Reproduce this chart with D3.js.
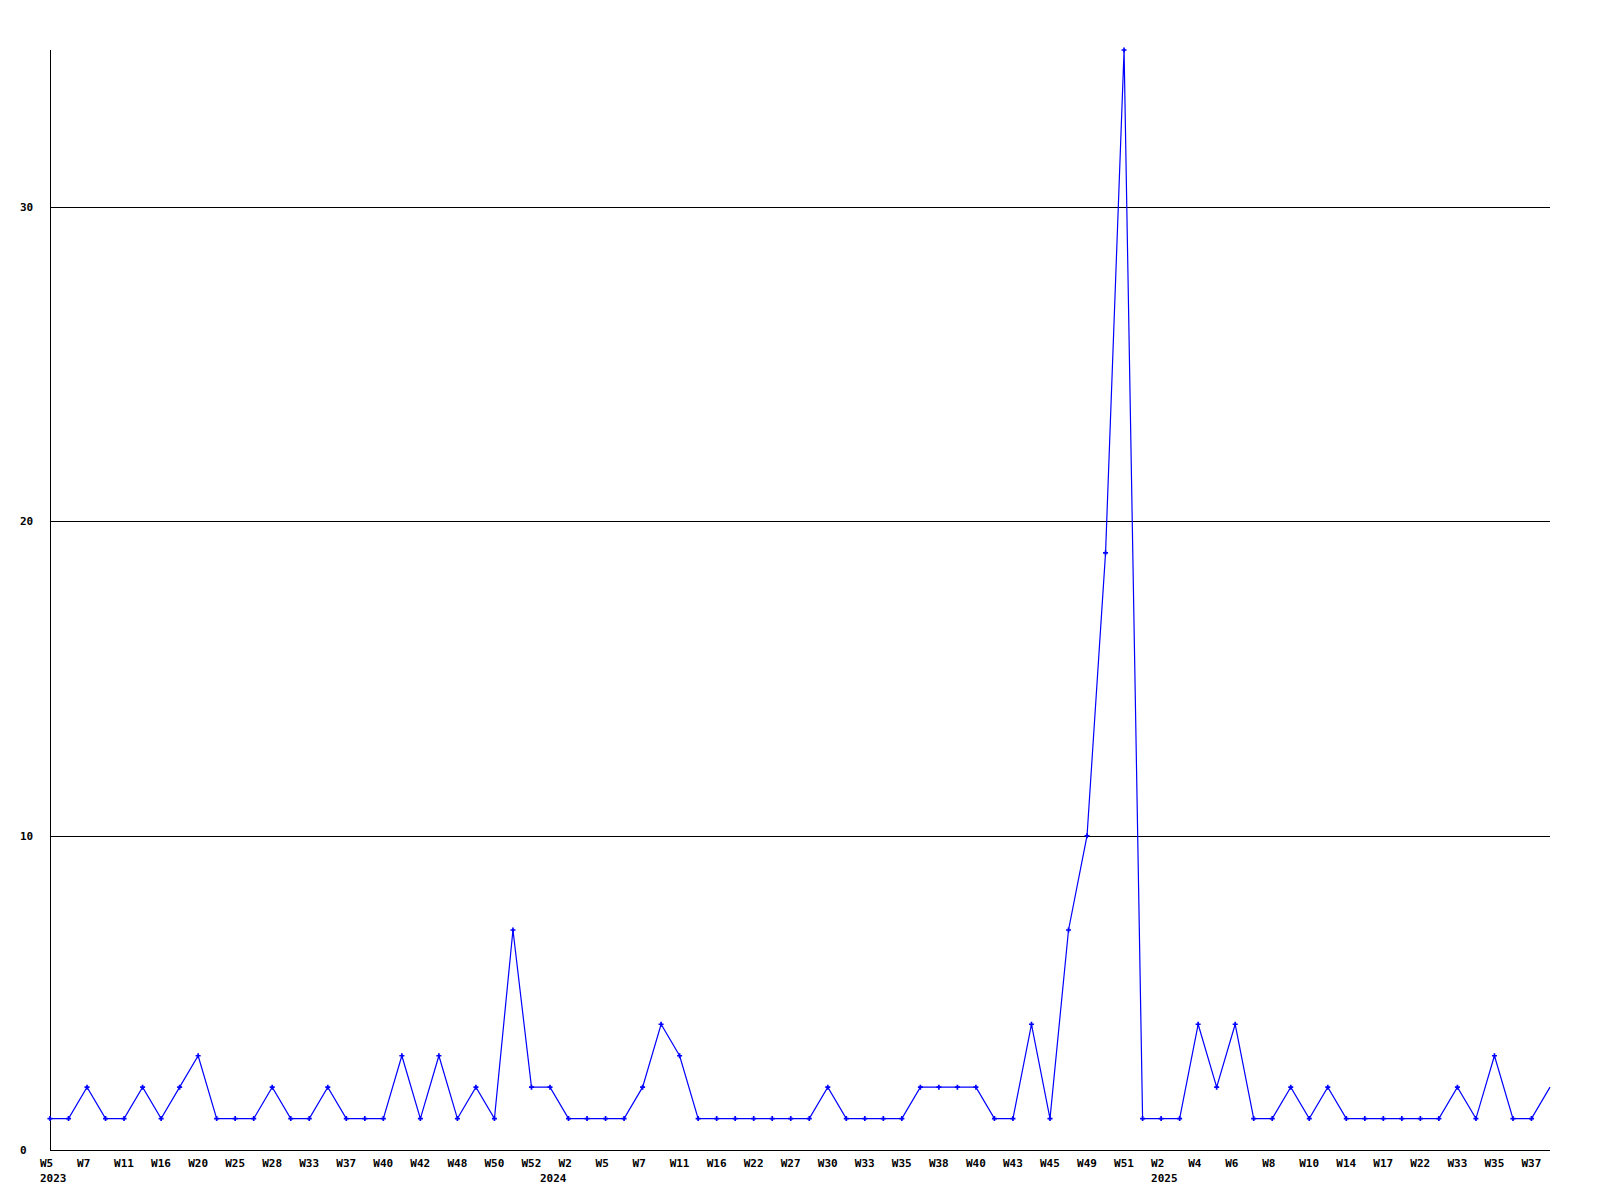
<!DOCTYPE html>
<html>
<head>
<meta charset="utf-8">
<script src="https://cdn.jsdelivr.net/npm/d3@7"></script>
<style>
  html, body { margin: 0; padding: 0; background: #fff; }
  text { font-family: "DejaVu Sans Mono", "Liberation Mono", monospace; font-weight: bold; font-size: 11px; fill: #000; }
</style>
</head>
<body>
<svg id="chart" width="1600" height="1200"></svg>
<script>
// Weekly counts, one entry per point (82 points)
const values = [
  1, 1, 2, 1, 1, 2, 1, 2, 3, 1,
  1, 1, 2, 1, 1, 2, 1, 1, 1, 3,
  1, 3, 1, 2, 1, 7, 2, 2, 1, 1,
  1, 1, 2, 4, 3, 1, 1, 1, 1, 1,
  1, 1, 2, 1, 1, 1, 1, 2, 2, 2,
  2, 1, 1, 4, 1, 7, 10, 19, 35, 1,
  1, 1, 4, 2, 4, 1, 1, 2, 1, 2,
  1, 1, 1, 1, 1, 1, 2, 1, 3, 1,
  1, 2
];
// Week labels shown under every second point
const weekLabels = [
  "W5", "W7", "W11", "W16", "W20", "W25", "W28", "W33", "W37", "W40",
  "W42", "W48", "W50", "W52", "W2", "W5", "W7", "W11", "W16", "W22",
  "W27", "W30", "W33", "W35", "W38", "W40", "W43", "W45", "W49", "W51",
  "W2", "W4", "W6", "W8", "W10", "W14", "W17", "W22", "W33", "W35", "W37"
];
// Year labels and the point index where each year starts
const yearLabels = ["2023", "2024", "2025"];
const yearStarts = [0, 27, 60];
// Y-axis ticks
const yTicks = [0, 10, 20, 30];
const yMax = 35;

const svg = d3.select("#chart");
const x = d3.scaleLinear().domain([0, values.length - 1]).range([50, 1550]);
const y = d3.scaleLinear().domain([0, yMax]).range([1150, 50]);

// Gridlines
svg.append("g").selectAll("line").data(yTicks.filter(d => d > 0)).join("line")
  .attr("x1", 50).attr("x2", 1550)
  .attr("y1", d => Math.round(y(d)) + 0.5).attr("y2", d => Math.round(y(d)) + 0.5)
  .attr("stroke", "#000").attr("stroke-width", 1);

// Y tick labels
svg.append("g").selectAll("text").data(yTicks).join("text")
  .attr("x", 20).attr("y", d => Math.round(y(d)))
  .attr("dy", "0.36em")
  .text(d => d);

// Axes lines
svg.append("line").attr("x1", 50.5).attr("x2", 50.5).attr("y1", 50).attr("y2", 1150)
  .attr("stroke", "#000");
svg.append("line").attr("x1", 50).attr("x2", 1550).attr("y1", 1150.5).attr("y2", 1150.5)
  .attr("stroke", "#000");

// Week labels
svg.append("g").selectAll("text").data(weekLabels).join("text")
  .attr("x", (d, i) => x(i * 2) - 10)
  .attr("y", 1167)
  .text(d => d);

// Year labels
svg.append("g").selectAll("text").data(yearLabels).join("text")
  .attr("x", (d, i) => x(yearStarts[i]) - 10)
  .attr("y", 1182)
  .text(d => d);

// Line
const line = d3.line().x((d, i) => x(i)).y(d => y(d));
svg.append("path").datum(values)
  .attr("d", line)
  .attr("fill", "none")
  .attr("stroke", "#0000ff")
  .attr("stroke-width", 1.2);

// Markers (small crosses)
const sym = d3.symbol().type(d3.symbolCross).size(14);
svg.append("g").selectAll("path").data(values.slice(0, -1)).join("path")
  .attr("transform", (d, i) => `translate(${x(i)},${y(d)})`)
  .attr("d", sym)
  .attr("fill", "#0000ff");
</script>
</body>
</html>
